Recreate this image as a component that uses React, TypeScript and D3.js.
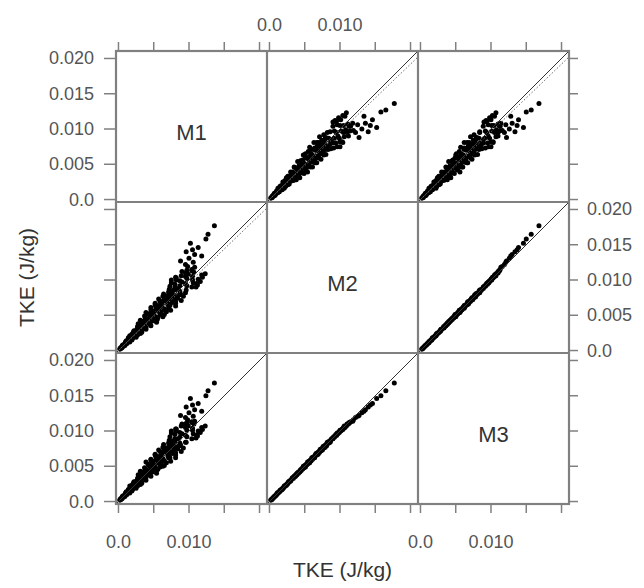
import React from "react";
import * as d3 from "d3";

// Variable names shown on the diagonal
const VARS = ["M1", "M2", "M3"];

const UNIT = 1e-4;

const M1 = [
  2, 2, 3, 3, 5, 3, 5, 5, 7, 5, 6, 9, 8, 6, 10, 9, 12, 9, 10, 12,
  16, 10, 13, 15, 13, 11, 17, 19, 14, 16, 20, 15, 14, 19, 25, 18, 17, 23, 21, 16,
  27, 20, 25, 19, 31, 23, 22, 28, 21, 33, 28, 24, 33, 22, 31, 27, 39, 26, 31, 37,
  30, 39, 27, 37, 46, 31, 36, 45, 28, 43, 34, 54, 39, 33, 48, 44, 31, 55, 41, 49,
  38, 56, 46, 63, 37, 51, 45, 59, 65, 42, 50, 59, 39, 58, 68, 49, 56, 74, 46, 65,
  54, 71, 46, 63, 53, 81, 60, 73, 52, 70, 61, 81, 52, 69, 61, 81, 59, 77, 89, 65,
  72, 57, 84, 65, 79, 72, 92, 63, 78, 71, 87, 64, 76, 95, 71, 87, 77, 96, 72, 85,
  80, 104, 73, 97, 87, 112, 80, 95, 106, 75, 90, 116, 87, 105, 82, 113, 97, 82, 119, 95,
  105, 89, 118, 99, 123, 95, 107, 90, 104, 97, 104, 110, 111, 75, 81,
  98, 95, 106, 88, 100, 108, 96, 113, 102, 124, 127, 136, 108, 118, 105,
  30, 36, 52, 47, 62, 58, 72, 64, 70, 84, 74, 80, 47, 44, 60, 56, 76, 78, 68, 88,
];

const M2 = [
  2, 2, 3, 3, 4, 4, 5, 5, 6, 6, 7, 7, 8, 8, 9, 9, 10, 10, 11, 11,
  12, 12, 13, 13, 14, 14, 15, 15, 16, 16, 17, 17, 18, 18, 19, 19, 20, 20, 21, 21,
  22, 22, 23, 23, 24, 24, 25, 25, 26, 26, 27, 27, 28, 28, 29, 29, 30, 30, 31, 32,
  33, 33, 34, 35, 35, 36, 37, 37, 38, 39, 39, 40, 41, 41, 42, 43, 43, 44, 45, 45,
  46, 47, 47, 48, 49, 49, 50, 51, 51, 52, 53, 53, 54, 55, 55, 56, 57, 57, 58, 59,
  59, 60, 61, 61, 62, 63, 63, 64, 65, 65, 66, 67, 67, 68, 69, 69, 70, 71, 71, 72,
  73, 73, 74, 75, 75, 76, 77, 77, 78, 79, 79, 80, 81, 82, 83, 84, 85, 86, 87, 88,
  89, 90, 91, 92, 92, 93, 94, 95, 96, 96, 97, 98, 99, 100, 100, 101, 102, 103, 104, 105,
  105, 106, 107, 108, 109, 110, 111, 112, 113, 114, 115, 90, 95, 100, 104,
  119, 122, 125, 127, 131, 136, 140, 146, 152, 158, 165, 177, 118, 134, 143,
  36, 42, 48, 54, 58, 62, 66, 70, 74, 78, 82, 86, 44, 50, 56, 64, 68, 72, 76, 80,
];

const M3 = [
  2, 2, 3, 3, 4, 4, 5, 5, 6, 6, 7, 7, 8, 8, 9, 9, 10, 10, 11, 12,
  12, 12, 13, 13, 14, 14, 16, 15, 16, 16, 17, 17, 17, 18, 19, 19, 20, 20, 21, 22,
  22, 22, 23, 23, 24, 23, 25, 25, 26, 26, 27, 28, 28, 28, 29, 29, 30, 29, 31, 33,
  33, 34, 33, 35, 36, 36, 36, 38, 38, 38, 40, 40, 40, 42, 42, 42, 43, 45, 44, 45,
  47, 46, 47, 50, 48, 49, 51, 49, 51, 53, 52, 53, 56, 54, 55, 57, 55, 57, 59, 58,
  59, 62, 60, 61, 63, 62, 63, 62, 66, 65, 68, 66, 67, 69, 67, 69, 71, 70, 71, 74,
  72, 73, 75, 73, 75, 78, 76, 77, 79, 77, 79, 81, 79, 84, 83, 83, 86, 84, 87, 89,
  89, 89, 92, 92, 91, 93, 95, 94, 96, 97, 96, 98, 98, 101, 100, 100, 101, 103, 102, 105,
  104, 107, 105, 107, 107, 110, 110, 110, 112, 112, 113, 90, 94, 100, 103,
  116, 119, 121, 122, 126, 130, 134, 139, 146, 150, 157, 168, 114, 128, 137,
  36, 42, 49, 54, 57, 62, 67, 70, 73, 78, 82, 85, 44, 50, 56, 64, 68, 72, 76, 80,
];

const AXIS_RANGE = [-0.00035, 0.02106];
const TICKS = [0, 0.005, 0.01, 0.015, 0.02];
const TICK_LABELS = ["0.0", "0.005", "0.010", "0.015", "0.020"];
const X_LABEL_TICKS = [0, 0.01];
const X_LABELS = ["0.0", "0.010"];
const FIT_SLOPE = 0.96;
const AXIS_TITLE = "TKE (J/kg)";

export default function App() {
  const W = 644, H = 588;
  const L = 116, T = 51, S = 151;
  const data = [M1, M2, M3].map((a) => a.map((v) => v * UNIT));
  const n = VARS.length;
  const xs = VARS.map((_, c) => d3.scaleLinear().domain(AXIS_RANGE).range([L + c * S, L + (c + 1) * S]));
  const ys = VARS.map((_, r) => d3.scaleLinear().domain(AXIS_RANGE).range([T + (r + 1) * S, T + r * S]));
  const font = "'Liberation Sans', Arial, sans-serif";
  const tickColor = "#808080";
  const labelColor = "#555";
  const dottedPanels = [[0, 1], [0, 2], [1, 0]];
  const R = T + n * S;
  const Rx = L + n * S;

  const panels = [];
  for (let r = 0; r < n; r++) {
    for (let c = 0; c < n; c++) {
      const x = xs[c], y = ys[r];
      const key = `${r}-${c}`;
      if (r === c) {
        panels.push(
          <text key={key} x={(x.range()[0] + x.range()[1]) / 2} y={(y.range()[0] + y.range()[1]) / 2 + 6}
            textAnchor="middle" dominantBaseline="central" fontSize={22} fill="#333" fontFamily={font}>{VARS[r]}</text>
        );
        continue;
      }
      const xd = data[c], yd = data[r];
      const hasDot = dottedPanels.some(([a, b]) => a === r && b === c);
      panels.push(
        <g key={key} clipPath={`url(#clip-${key})`}>
          <clipPath id={`clip-${key}`}>
            <rect x={x.range()[0]} y={y.range()[1]} width={S} height={S} />
          </clipPath>
          {xd.map((v, i) => (
            <circle key={i} cx={x(v)} cy={y(yd[i])} r={2.5} fill="#000" />
          ))}
          <line x1={x(AXIS_RANGE[0])} y1={y(AXIS_RANGE[0])} x2={x(AXIS_RANGE[1])} y2={y(AXIS_RANGE[1])}
            stroke="#333" strokeWidth={1} />
          {hasDot && (
            <line x1={x(0)} y1={y(0)} x2={x(AXIS_RANGE[1])} y2={y(AXIS_RANGE[1] * FIT_SLOPE)}
              stroke="#666" strokeWidth={1} strokeDasharray="1.5,2" />
          )}
        </g>
      );
    }
  }

  const axes = [];
  for (let c = 0; c < n; c++) {
    const x = xs[c];
    TICKS.forEach((t, i) => {
      axes.push(<line key={`tt${c}${i}`} x1={x(t)} x2={x(t)} y1={T} y2={T - 9} stroke={tickColor} strokeWidth={1.5} />);
      axes.push(<line key={`bt${c}${i}`} x1={x(t)} x2={x(t)} y1={R} y2={R + 9} stroke={tickColor} strokeWidth={1.5} />);
    });
    X_LABEL_TICKS.forEach((t, i) => {
      if (c === 1) {
        axes.push(<text key={`tl${c}${i}`} x={x(t)} y={T - 20} textAnchor="middle" fontSize={18} fill={labelColor} fontFamily={font}>{X_LABELS[i]}</text>);
      } else {
        axes.push(<text key={`bl${c}${i}`} x={x(t)} y={R + 44} textAnchor="middle" fontSize={18} fill={labelColor} fontFamily={font}>{X_LABELS[i]}</text>);
      }
    });
  }
  for (let r = 0; r < n; r++) {
    const y = ys[r];
    TICKS.forEach((t, i) => {
      axes.push(<line key={`lt${r}${i}`} x1={L - 12} x2={L} y1={y(t)} y2={y(t)} stroke={tickColor} strokeWidth={1.5} />);
      axes.push(<line key={`rt${r}${i}`} x1={Rx} x2={Rx + 9} y1={y(t)} y2={y(t)} stroke={tickColor} strokeWidth={1.5} />);
      if (r === 1) {
        axes.push(<text key={`rl${r}${i}`} x={Rx + 18} y={y(t)} dominantBaseline="central" fontSize={18} fill={labelColor} fontFamily={font}>{TICK_LABELS[i]}</text>);
      } else {
        axes.push(<text key={`ll${r}${i}`} x={L - 22} y={y(t)} textAnchor="end" dominantBaseline="central" fontSize={18} fill={labelColor} fontFamily={font}>{TICK_LABELS[i]}</text>);
      }
    });
  }

  const grid = [];
  for (let k = 1; k < n; k++) {
    grid.push(<line key={`gv${k}`} x1={L + k * S} x2={L + k * S} y1={T} y2={R} stroke={tickColor} strokeWidth={2.2} />);
    grid.push(<line key={`gh${k}`} x1={L} x2={Rx} y1={T + k * S} y2={T + k * S} stroke={tickColor} strokeWidth={2.2} />);
  }

  return (
    <svg width={W} height={H} style={{ position: "absolute", left: 0, top: 0, background: "#fff" }}>
      <rect width={W} height={H} fill="#fff" />
      {panels}
      {grid}
      <rect x={L} y={T} width={n * S} height={n * S} fill="none" stroke={tickColor} strokeWidth={2.2} />
      {axes}
      <text x={L + (n * S) / 2} y={577} textAnchor="middle" fontSize={21} fill="#333" fontFamily={font}>{AXIS_TITLE}</text>
      <text transform={`translate(34, ${T + (n * S) / 2}) rotate(-90)`} textAnchor="middle" fontSize={21} fill="#333" fontFamily={font}>{AXIS_TITLE}</text>
    </svg>
  );
}
